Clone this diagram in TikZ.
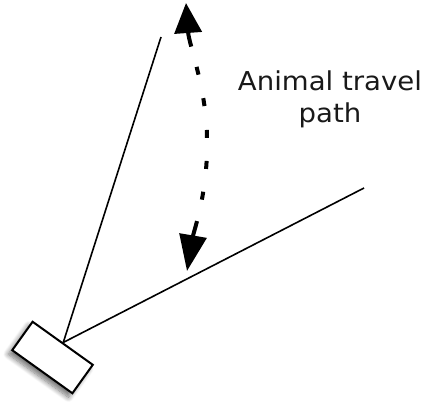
\documentclass[tikz,border=0pt]{standalone}
\usepackage{fontspec}
\newfontfamily\lblfont[FakeStretch=1.06]{DejaVu Sans}
\usetikzlibrary{arrows.meta,shadows.blur}
\begin{document}
\begin{tikzpicture}[x=1pt,y=-1pt,
  camera/.style={draw=black, line width=2pt, fill=white, minimum width=74pt, minimum height=35pt, inner sep=0pt, rotate=-35.6,
    blur shadow={shadow xshift=-4pt, shadow yshift=-4pt, shadow blur radius=5pt, shadow blur steps=10, shadow opacity=55}},
  viewline/.style={line width=1.6pt, black},
  travel/.style={line width=4pt, black,
    {Triangle[length=30pt,width=27pt]}-{Triangle[length=36pt,width=27pt]},
    dash pattern=on 15pt off 21pt on 8pt off 24pt on 8pt off 24pt on 8pt off 23pt on 8pt off 23pt on 8pt off 22pt on 30pt},
  label/.style={font=\lblfont\fontsize{26pt}{32pt}\selectfont, align=center, inner sep=0pt, text=black!90}
]
\useasboundingbox (0,0) rectangle (427,404);
\node[camera] (cam) at (52.5,357.5) {};
\coordinate (e1) at (161,37);
\coordinate (e2) at (364,188);
\draw[viewline] (cam.north) -- (e1);
\draw[viewline] (cam.north) -- (e2);
\coordinate (ta) at (186,3);
\coordinate (tm) at (207,140);
\coordinate (tb) at (187,271);
\draw[travel] (ta) .. controls (189,45) and (207,90) .. (tm) .. controls (208,192) and (194,230) .. (tb);
\node[label, anchor=north] (lbl) at (330,71) {Animal travel\\path};
\end{tikzpicture}
\end{document}
